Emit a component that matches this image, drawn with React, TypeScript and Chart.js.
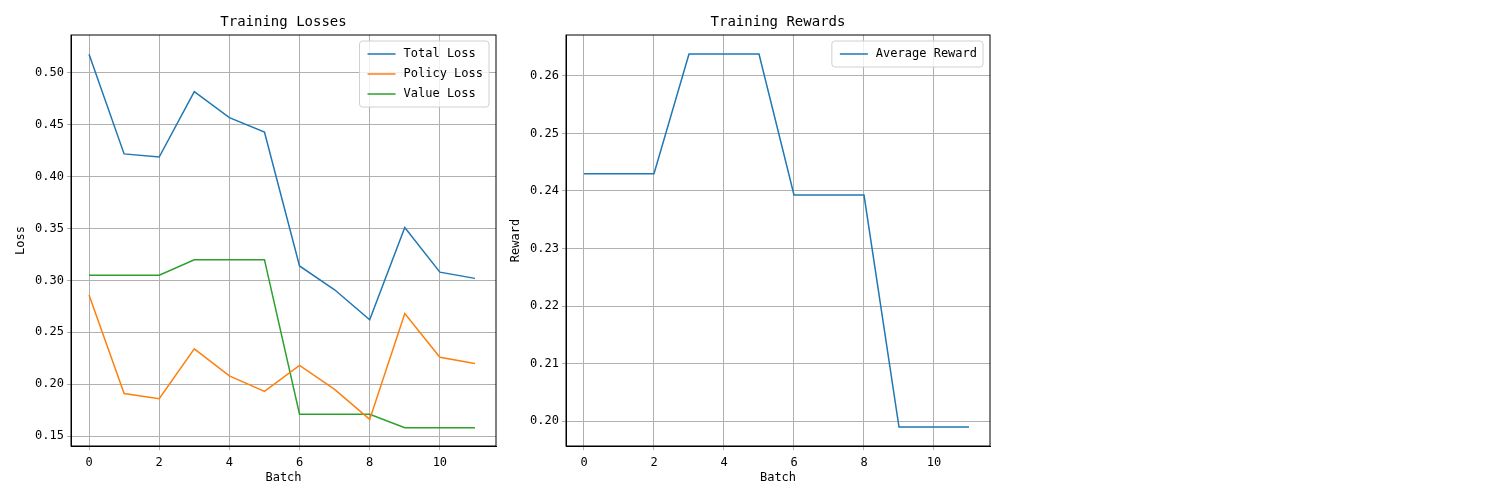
import React, { useEffect, useRef } from 'react';
import { Chart, registerables } from 'chart.js';

Chart.register(...registerables);

const batches = [0, 1, 2, 3, 4, 5, 6, 7, 8, 9, 10, 11];
const totalLoss = [0.518, 0.422, 0.419, 0.482, 0.457, 0.443, 0.314, 0.291, 0.262, 0.351, 0.308, 0.302];
const policyLoss = [0.286, 0.191, 0.186, 0.234, 0.208, 0.193, 0.218, 0.195, 0.166, 0.268, 0.226, 0.22];
const valueLoss = [0.305, 0.305, 0.305, 0.32, 0.32, 0.32, 0.171, 0.171, 0.171, 0.158, 0.158, 0.158];
const avgReward = [0.243, 0.243, 0.243, 0.2638, 0.2638, 0.2638, 0.2393, 0.2393, 0.2393, 0.199, 0.199, 0.199];

const FONT = '"DejaVu Sans Mono", monospace';

const framePlugin = {
  id: 'frame',
  afterDraw(chart: any, _a: any, opts: any) {
    const { ctx, chartArea: a } = chart;
    ctx.save();
    ctx.strokeStyle = '#000';
    ctx.lineWidth = 1;
    ctx.strokeRect(a.left, a.top, a.right - a.left, a.bottom - a.top);
    // title
    ctx.fillStyle = '#000';
    ctx.font = `14px ${FONT}`;
    ctx.textAlign = 'center';
    ctx.textBaseline = 'bottom';
    ctx.fillText(opts.title, (a.left + a.right) / 2, a.top - 6);
    // axis titles
    ctx.font = `12px ${FONT}`;
    ctx.textBaseline = 'middle';
    ctx.fillText('Batch', (a.left + a.right) / 2, 478);
    ctx.save();
    ctx.translate(opts.yTitleX, (a.top + a.bottom) / 2);
    ctx.rotate(-Math.PI / 2);
    ctx.fillText(opts.yTitle, 0, 0);
    ctx.restore();
    // legend
    const items = chart.data.datasets;
    const w = Math.max(...items.map((d: any) => ctx.measureText(d.label).width)) + 50;
    const h = items.length * 20 + 6;
    const x = a.right - w - 7;
    const y = a.top + 6;
    ctx.fillStyle = 'rgba(255,255,255,0.8)';
    ctx.strokeStyle = '#d0d0d0';
    ctx.beginPath();
    ctx.roundRect(x, y, w, h, 3);
    ctx.fill();
    ctx.stroke();
    ctx.textAlign = 'left';
    items.forEach((d: any, i: number) => {
      const cy = y + 13 + i * 20;
      ctx.strokeStyle = d.borderColor;
      ctx.lineWidth = 1.5;
      ctx.beginPath();
      ctx.moveTo(x + 8, cy);
      ctx.lineTo(x + 36, cy);
      ctx.stroke();
      ctx.fillStyle = '#000';
      ctx.fillText(d.label, x + 44, cy);
    });
    ctx.restore();
  },
};

function makeConfig(title: string, yLabel: string, yTitleX: number, datasets: any[], yMin: number, yMax: number, yStep: number, yWidth: number, padRight: number): any {
  return {
    type: 'line',
    data: {
      datasets: datasets.map((d) => ({
        label: d.label,
        data: batches.map((b, i) => ({ x: b, y: d.values[i] })),
        borderColor: d.color,
        backgroundColor: d.color,
        borderWidth: 1.5,
        pointRadius: 0,
        tension: 0,
        fill: false,
      })),
    },
    plugins: [framePlugin],
    options: {
      animation: false,
      responsive: false,
      layout: { padding: { top: 35, right: padRight, left: 0, bottom: 0 } },
      plugins: { legend: { display: false }, tooltip: { enabled: false }, frame: { title, yTitle: yLabel, yTitleX } },
      scales: {
        x: {
          type: 'linear',
          min: -0.514,
          max: 11.6,
          afterFit: (s: any) => { s.height = 54; },
          ticks: { stepSize: 2, includeBounds: false, color: '#000', font: { family: FONT, size: 12 }, maxRotation: 0, padding: 6 },
          grid: { color: '#b0b0b0', tickLength: 4 },
          border: { color: '#000' },
        },
        y: {
          min: yMin,
          max: yMax,
          afterFit: (s: any) => { s.width = yWidth; },
          ticks: { stepSize: yStep, includeBounds: false, color: '#000', font: { family: FONT, size: 12 }, callback: (v: number) => v.toFixed(2) },
          grid: { color: '#b0b0b0', tickLength: 4 },
          border: { color: '#000' },
        },
      },
    },
  };
}

export default function App() {
  const leftRef = useRef<HTMLCanvasElement | null>(null);
  const rightRef = useRef<HTMLCanvasElement | null>(null);

  useEffect(() => {
    const c1 = new Chart(leftRef.current!, makeConfig('Training Losses', 'Loss', 21, [
      { label: 'Total Loss', values: totalLoss, color: '#1f77b4' },
      { label: 'Policy Loss', values: policyLoss, color: '#ff7f0e' },
      { label: 'Value Loss', values: valueLoss, color: '#2ca02c' },
    ], 0.1404, 0.5366, 0.05, 71, 4));
    const c2 = new Chart(rightRef.current!, makeConfig('Training Rewards', 'Reward', 16, [
      { label: 'Average Reward', values: avgReward, color: '#1f77b4' },
    ], 0.1957, 0.2671, 0.01, 66, 10));
    return () => { c1.destroy(); c2.destroy(); };
  }, []);

  return (
    <div style={{ position: 'absolute', left: 0, top: 0, width: 1500, height: 500, background: '#fff' }}>
      <canvas ref={leftRef} width={500} height={500} style={{ position: 'absolute', left: 0, top: 0 }} />
      <canvas ref={rightRef} width={500} height={500} style={{ position: 'absolute', left: 500, top: 0 }} />
    </div>
  );
}
